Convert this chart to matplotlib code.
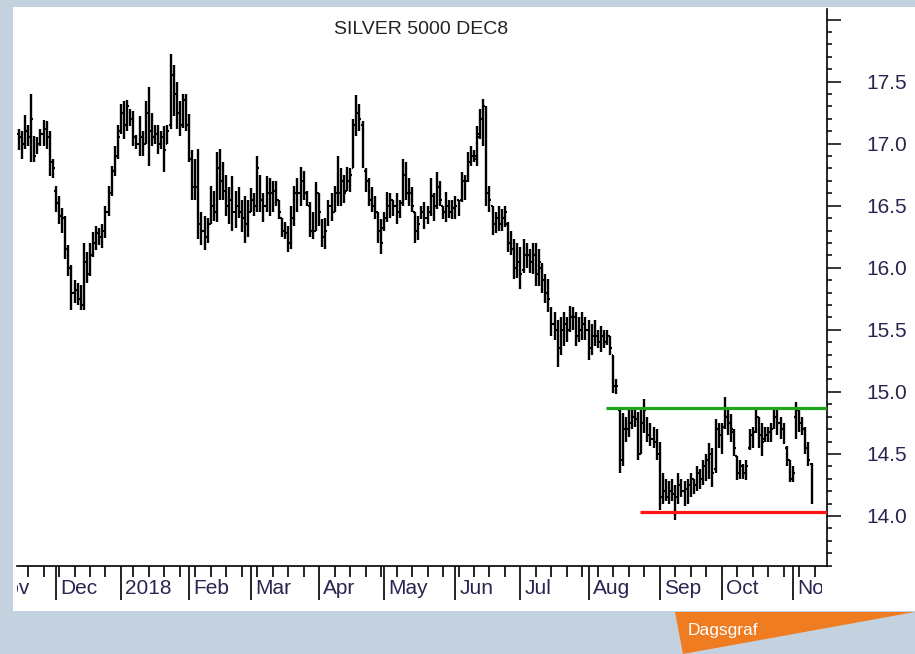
import numpy as np
import pandas as pd
import matplotlib
matplotlib.use("Agg")
import matplotlib.pyplot as plt
from matplotlib.patches import Rectangle, Polygon
from matplotlib.ticker import FixedLocator, MultipleLocator, FuncFormatter
from matplotlib import transforms

# ---------------- data (daily OHLC, Silver 5000 Dec8) ----------------
start_date = "2017-11-15"
end_date = "2018-11-09"
holidays = ["2018-01-01"]

opens = [
    # Nov 2017
    17.08, 17.05, 17.00, 17.10, 17.05, 17.05, 16.95, 17.00, 17.08, 17.12, 17.05, 16.85,
    # Dec
    16.62, 16.52, 16.42, 16.40, 16.15, 16.00, 15.80, 15.82, 15.75, 15.70, 16.05, 15.95, 16.10, 16.20,
    16.28, 16.25, 16.30, 16.45, 16.60, 16.78, 16.90,
    # Jan 2018
    17.10, 17.25, 17.15, 17.25, 17.20, 17.05, 17.00, 17.05, 17.00, 17.25, 17.10, 17.05, 17.08, 17.00,
    17.05, 17.00, 17.15, 17.55, 17.40, 17.25, 17.15, 17.35,
    # Feb
    17.15, 16.88, 16.65, 16.65, 16.35, 16.30, 16.25, 16.35, 16.50, 16.45, 16.80, 16.70, 16.62, 16.50,
    16.55, 16.45, 16.50, 16.45, 16.40, 16.35,
    # Mar
    16.45, 16.55, 16.50, 16.72, 16.55, 16.50, 16.60, 16.60, 16.62, 16.55, 16.40, 16.30, 16.28, 16.20,
    16.40, 16.60, 16.60, 16.70, 16.60, 16.50, 16.30, 16.30,
    # Apr
    16.60, 16.38, 16.25, 16.35, 16.50, 16.45, 16.60, 16.60, 16.70, 16.62, 16.70, 16.80, 17.15, 17.25,
    17.15, 16.78, 16.70, 16.55, 16.50, 16.45, 16.30,
    # May
    16.32, 16.40, 16.50, 16.55, 16.50, 16.45, 16.52, 16.75, 16.60, 16.60, 16.45, 16.30, 16.40, 16.45,
    16.40, 16.45, 16.58, 16.50, 16.65, 16.50, 16.45, 16.50, 16.45,
    # Jun
    16.48, 16.55, 16.55, 16.70, 16.70, 16.85, 16.90, 16.88, 17.08, 17.20, 17.25, 16.60, 16.50, 16.35,
    16.40, 16.35, 16.40, 16.35, 16.20, 16.15, 16.00,
    # Jul
    16.05, 15.98, 16.10, 16.10, 16.05, 16.10, 15.95, 16.00, 15.90, 15.80, 15.65, 15.55, 15.50, 15.35,
    15.50, 15.55, 15.50, 15.60, 15.60, 15.45, 15.50, 15.55,
    # Aug
    15.50, 15.35, 15.45, 15.45, 15.40, 15.45, 15.40, 15.45, 15.30, 15.05, 14.85, 14.45, 14.70, 14.70,
    14.75, 14.80, 14.78, 14.50, 14.75, 14.78, 14.65, 14.62, 14.60,
    # Sep
    14.50, 14.15, 14.20, 14.15, 14.20, 14.18, 14.15, 14.25, 14.20, 14.22, 14.25, 14.30, 14.25, 14.35,
    14.30, 14.40, 14.45, 14.50, 14.38, 14.70,
    # Oct
    14.65, 14.72, 14.80, 14.75, 14.68, 14.48, 14.35, 14.40, 14.35, 14.55, 14.65, 14.68, 14.80, 14.65,
    14.62, 14.65, 14.68, 14.72, 14.80, 14.75, 14.70, 14.55, 14.45,
    # Nov
    14.30, 14.80, 14.85, 14.75, 14.70, 14.55, 14.42,
]

highs = [
    17.12, 17.10, 17.23, 17.15, 17.40, 17.06, 17.05, 17.12, 17.19, 17.18, 17.10, 16.88,
    16.66, 16.58, 16.48, 16.42, 16.18, 16.02, 15.90, 15.88, 15.86, 16.20, 16.13, 16.20, 16.29, 16.34,
    16.32, 16.35, 16.50, 16.66, 16.82, 16.98, 17.15,
    17.32, 17.34, 17.35, 17.28, 17.26, 17.07, 17.22, 17.10, 17.34, 17.46, 17.25, 17.15, 17.15, 17.10,
    17.14, 17.15, 17.72, 17.63, 17.50, 17.34, 17.40, 17.40,
    17.24, 16.95, 16.88, 16.96, 16.45, 16.42, 16.40, 16.66, 16.62, 16.93, 16.96, 16.85, 16.75, 16.65,
    16.74, 16.62, 16.65, 16.55, 16.58, 16.55,
    16.64, 16.60, 16.90, 16.75, 16.60, 16.74, 16.72, 16.70, 16.70, 16.55, 16.40, 16.37, 16.34, 16.50,
    16.66, 16.72, 16.81, 16.78, 16.62, 16.53, 16.45, 16.69,
    16.60, 16.39, 16.40, 16.55, 16.60, 16.66, 16.90, 16.80, 16.75, 16.81, 16.80, 17.20, 17.39, 17.32,
    17.18, 16.80, 16.72, 16.65, 16.58, 16.45, 16.39,
    16.45, 16.61, 16.60, 16.55, 16.60, 16.55, 16.88, 16.85, 16.72, 16.65, 16.45, 16.42, 16.50, 16.53,
    16.50, 16.72, 16.60, 16.77, 16.70, 16.50, 16.61, 16.55, 16.55,
    16.58, 16.55, 16.77, 16.75, 16.93, 16.98, 16.95, 17.14, 17.28, 17.36, 17.30, 16.66, 16.50, 16.45,
    16.50, 16.47, 16.50, 16.37, 16.30, 16.23, 16.20,
    16.17, 16.23, 16.20, 16.15, 16.20, 16.20, 16.15, 16.04, 15.95, 15.91, 15.68, 15.64, 15.58, 15.60,
    15.64, 15.60, 15.69, 15.68, 15.64, 15.60, 15.64, 15.60,
    15.58, 15.55, 15.58, 15.50, 15.53, 15.50, 15.50, 15.45, 15.30, 15.10, 14.88, 14.83, 14.80, 14.85,
    14.86, 14.86, 14.84, 14.86, 14.94, 14.80, 14.75, 14.72, 14.70,
    14.60, 14.35, 14.30, 14.28, 14.30, 14.25, 14.35, 14.30, 14.28, 14.30, 14.35, 14.30, 14.40, 14.38,
    14.45, 14.50, 14.59, 14.55, 14.78, 14.75,
    14.75, 14.96, 14.86, 14.82, 14.70, 14.48, 14.45, 14.42, 14.45, 14.70, 14.72, 14.86, 14.80, 14.75,
    14.72, 14.72, 14.75, 14.86, 14.85, 14.80, 14.75, 14.56, 14.45,
    14.40, 14.92, 14.85, 14.80, 14.72, 14.60, 14.43,
]

lows = [
    16.95, 16.88, 16.96, 16.98, 16.85, 16.85, 16.92, 16.98, 16.98, 16.96, 16.74, 16.72,
    16.45, 16.35, 16.28, 16.07, 15.93, 15.66, 15.72, 15.70, 15.66, 15.66, 15.88, 15.93, 16.09, 16.14,
    16.18, 16.16, 16.24, 16.42, 16.58, 16.74, 16.88,
    17.08, 17.04, 17.10, 17.14, 16.98, 16.96, 16.90, 16.90, 17.00, 16.82, 16.98, 17.00, 16.92, 16.96,
    16.77, 17.00, 17.12, 17.22, 17.12, 17.06, 17.13, 17.10,
    16.85, 16.55, 16.55, 16.23, 16.18, 16.14, 16.20, 16.35, 16.38, 16.37, 16.55, 16.55, 16.42, 16.35,
    16.30, 16.32, 16.40, 16.29, 16.20, 16.25,
    16.45, 16.42, 16.45, 16.45, 16.37, 16.45, 16.42, 16.45, 16.50, 16.39, 16.25, 16.23, 16.13, 16.15,
    16.34, 16.45, 16.50, 16.55, 16.50, 16.25, 16.23, 16.30,
    16.34, 16.17, 16.15, 16.34, 16.38, 16.45, 16.50, 16.50, 16.52, 16.62, 16.61, 16.80, 17.06, 17.10,
    16.80, 16.61, 16.50, 16.45, 16.39, 16.20, 16.11,
    16.30, 16.37, 16.40, 16.42, 16.35, 16.40, 16.50, 16.55, 16.50, 16.45, 16.20, 16.22, 16.39, 16.31,
    16.35, 16.42, 16.38, 16.47, 16.50, 16.39, 16.37, 16.40, 16.39,
    16.39, 16.42, 16.53, 16.55, 16.69, 16.82, 16.85, 16.82, 17.04, 16.98, 16.50, 16.45, 16.26, 16.28,
    16.30, 16.30, 16.33, 16.13, 16.10, 15.91, 15.92,
    15.83, 15.96, 16.00, 15.96, 15.95, 15.85, 15.85, 15.80, 15.72, 15.64, 15.45, 15.42, 15.20, 15.30,
    15.37, 15.40, 15.48, 15.50, 15.37, 15.40, 15.42, 15.42,
    15.26, 15.30, 15.37, 15.35, 15.32, 15.35, 15.38, 15.30, 14.99, 14.98, 14.35, 14.40, 14.60, 14.64,
    14.70, 14.72, 14.45, 14.50, 14.67, 14.60, 14.56, 14.55, 14.45,
    14.05, 14.10, 14.12, 14.10, 14.12, 13.97, 14.10, 14.15, 14.08, 14.10, 14.15, 14.18, 14.20, 14.22,
    14.25, 14.28, 14.30, 14.23, 14.35, 14.55,
    14.50, 14.70, 14.65, 14.60, 14.48, 14.29, 14.30, 14.30, 14.29, 14.53, 14.55, 14.67, 14.55, 14.48,
    14.60, 14.60, 14.60, 14.70, 14.65, 14.62, 14.58, 14.40, 14.27,
    14.27, 14.62, 14.68, 14.65, 14.50, 14.40, 14.10,
]

closes = [
    17.05, 17.00, 17.10, 17.05, 17.20, 16.90, 17.00, 17.08, 17.12, 17.05, 16.85, 16.80,
    16.52, 16.42, 16.40, 16.15, 16.00, 15.80, 15.82, 15.75, 15.70, 16.05, 15.95, 16.10, 16.20, 16.28,
    16.25, 16.30, 16.45, 16.60, 16.78, 16.90, 17.05,
    17.25, 17.15, 17.30, 17.20, 17.05, 17.00, 17.05, 17.00, 17.25, 17.10, 17.05, 17.08, 17.00, 17.05,
    16.95, 17.10, 17.55, 17.40, 17.25, 17.15, 17.35, 17.15,
    16.88, 16.65, 16.65, 16.35, 16.30, 16.25, 16.35, 16.50, 16.45, 16.80, 16.70, 16.62, 16.50, 16.55,
    16.45, 16.50, 16.45, 16.40, 16.35, 16.45,
    16.55, 16.50, 16.80, 16.55, 16.50, 16.60, 16.60, 16.62, 16.55, 16.45, 16.30, 16.28, 16.20, 16.40,
    16.60, 16.60, 16.70, 16.60, 16.55, 16.30, 16.30, 16.60,
    16.45, 16.25, 16.30, 16.50, 16.45, 16.60, 16.60, 16.70, 16.60, 16.70, 16.75, 17.15, 17.25, 17.20,
    16.85, 16.70, 16.55, 16.50, 16.45, 16.30, 16.20,
    16.40, 16.50, 16.55, 16.50, 16.45, 16.50, 16.75, 16.60, 16.60, 16.50, 16.30, 16.35, 16.45, 16.40,
    16.45, 16.60, 16.45, 16.65, 16.55, 16.45, 16.50, 16.45, 16.48,
    16.50, 16.50, 16.70, 16.65, 16.85, 16.90, 16.90, 17.05, 17.20, 17.30, 16.60, 16.55, 16.35, 16.40,
    16.35, 16.40, 16.45, 16.20, 16.15, 16.00, 16.05,
    15.95, 16.10, 16.10, 16.05, 16.10, 15.95, 16.05, 15.90, 15.80, 15.75, 15.55, 15.50, 15.35, 15.50,
    15.55, 15.50, 15.60, 15.60, 15.45, 15.50, 15.55, 15.50,
    15.35, 15.45, 15.45, 15.40, 15.45, 15.40, 15.45, 15.35, 15.05, 15.05, 14.45, 14.70, 14.70, 14.75,
    14.80, 14.78, 14.50, 14.75, 14.85, 14.65, 14.62, 14.60, 14.50,
    14.15, 14.20, 14.15, 14.20, 14.18, 14.15, 14.25, 14.20, 14.22, 14.25, 14.30, 14.25, 14.35, 14.30,
    14.40, 14.45, 14.50, 14.35, 14.70, 14.65,
    14.60, 14.80, 14.75, 14.70, 14.55, 14.35, 14.40, 14.35, 14.40, 14.65, 14.68, 14.80, 14.65, 14.60,
    14.65, 14.68, 14.70, 14.80, 14.75, 14.70, 14.60, 14.45, 14.30,
    14.35, 14.85, 14.75, 14.70, 14.55, 14.45, 14.15,
]

resistance_level = 14.87
resistance_start = "2018-08-09"
support_level = 14.03
support_start = "2018-08-24"

month_labels = ["Nov", "Dec", "2018", "Feb", "Mar", "Apr", "May", "Jun",
                "Jul", "Aug", "Sep", "Oct", "Nov"]
month_starts = ["2017-11-01", "2017-12-01", "2018-01-02", "2018-02-01", "2018-03-01",
                "2018-04-02", "2018-05-01", "2018-06-01", "2018-07-02", "2018-08-01",
                "2018-09-03", "2018-10-01", "2018-11-01"]

price_ticks_major = [14.0, 14.5, 15.0, 15.5, 16.0, 16.5, 17.0, 17.5, 18.0]
title = "SILVER 5000 DEC8"

# ---------------- figure ----------------
W, H = 915, 654
fig = plt.figure(figsize=(W / 100, H / 100), dpi=100)
fig.patch.set_facecolor("#c4d2df")

# white panel (behind the axes)
fig.patches.append(Rectangle((13 / W, 1 - 611 / H), 1 - 13 / W, (611 - 7) / H,
                             transform=fig.transFigure, facecolor="white",
                             edgecolor="none", zorder=-10))
# orange tab
fig.patches.append(Polygon([(675 / W, 1 - 612 / H), (1.0, 1 - 612 / H), (683 / W, 0.0)],
                           closed=True, transform=fig.transFigure,
                           facecolor="#f07c22", edgecolor="none", zorder=-5))
fig.text(688 / W, 1 - 630 / H, "Dagsgraf", color="white", fontsize=12.5,
         family="Liberation Sans", ha="left", va="center", zorder=2)

ax = fig.add_axes([17 / W, 1 - 566 / H, (827 - 17) / W, (566 - 9) / H])
ax.set_facecolor("none")
ax.set_zorder(1)

# trading-day index (weekdays without exchange holiday)
all_days = pd.bdate_range(start_date, "2018-11-16")
all_days = all_days[~all_days.isin(pd.to_datetime(holidays))]
dates = all_days[all_days <= pd.Timestamp(end_date)]
x = np.arange(len(dates))

def day_pos(d):
    d = pd.Timestamp(d)
    if d < all_days[0]:
        return -float(np.busday_count(d.date(), all_days[0].date()))
    return float(all_days.get_indexer([d], method="bfill")[0])

ax.vlines(x, lows, highs, color="black", lw=1.7, zorder=3)
ax.hlines(opens, x - 0.55, x, color="black", lw=1.5, zorder=3)
ax.hlines(closes, x, x + 0.55, color="black", lw=1.5, zorder=3)

ax.set_xlim(-0.58, 261.0)
ax.set_ylim(13.597, 18.085)

xr = ax.get_xlim()[1]
ax.hlines(resistance_level, day_pos(resistance_start) - 0.5, xr, color="#1ea51e", lw=2.3, zorder=4)
ax.hlines(support_level, day_pos(support_start) - 0.5, xr, color="#ff1414", lw=2.3, zorder=4)

# spines
for s in ["left", "top"]:
    ax.spines[s].set_visible(False)
for s in ["right", "bottom"]:
    ax.spines[s].set_color("black")
    ax.spines[s].set_linewidth(1.2)

# y axis on right
ax.yaxis.tick_right()
ax.yaxis.set_major_locator(FixedLocator(price_ticks_major))
ax.yaxis.set_minor_locator(MultipleLocator(0.1))
ax.yaxis.set_major_formatter(FuncFormatter(lambda v, p: f"{v:.1f}" if v < 17.75 else ""))
ax.tick_params(axis="y", which="major", direction="out", length=10, width=1.1,
               pad=18, labelsize=15, labelcolor="#2e2250", colors="black")
ax.tick_params(axis="y", which="minor", direction="out", length=3.8, width=1.1)
for lab in ax.get_yticklabels():
    lab.set_family("Liberation Sans")

# x axis: month ticks (long) and weekly ticks (short)
month_pos = [day_pos(d) for d in month_starts]
monday_pos = [float(i) for i, d in enumerate(all_days) if d.weekday() == 0 and float(i) not in month_pos]
ax.xaxis.set_major_locator(FixedLocator([p for p in month_pos if p >= 0]))
ax.xaxis.set_minor_locator(FixedLocator(monday_pos))
ax.tick_params(axis="x", which="major", direction="out", length=24.5, width=1.2,
               labelbottom=False)
ax.tick_params(axis="x", which="minor", direction="out", length=8, width=1.2)

# month labels, clipped to the axis span
trans = transforms.blended_transform_factory(ax.transData, fig.transFigure)
trans = trans + transforms.ScaledTranslation(4 / 100, 0, fig.dpi_scale_trans)
clip = transforms.TransformedBbox(transforms.Bbox([[17 / W, 0], [822 / W, 1]]), fig.transFigure)
for lab, p in zip(month_labels, month_pos):
    t = fig.text(p, 1 - 589 / H, lab, transform=trans, ha="left", va="center",
                 fontsize=15, color="#2e2250", family="Liberation Sans")
    t.set_clip_box(clip)
    t.set_clip_on(True)

fig.text(421 / W, 1 - 29 / H, title, ha="center", va="center", fontsize=14,
         color="#222222", family="Liberation Sans")

fig.savefig("out.png", dpi=100, facecolor=fig.get_facecolor())
